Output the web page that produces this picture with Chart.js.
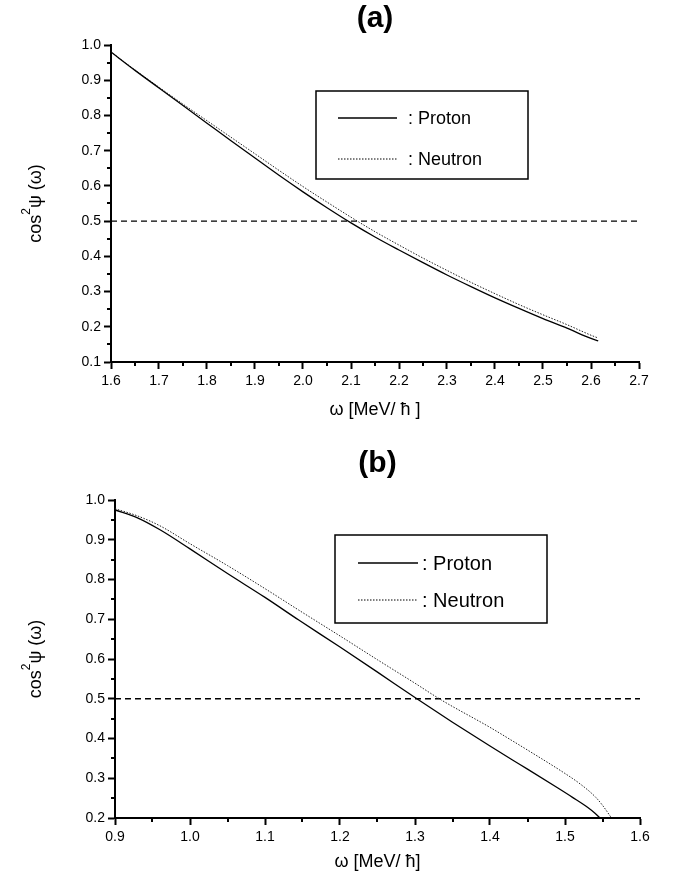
<!DOCTYPE html>
<html>
<head>
<meta charset="utf-8">
<script src="https://cdn.jsdelivr.net/npm/chart.js@4.4.1/dist/chart.umd.min.js"></script>
<style>
  html, body { margin: 0; padding: 0; background: #fff; }
  .panel { position: absolute; left: 0; width: 676px; }
  #wrapA { top: 0; height: 440px; }
  #wrapB { top: 440px; height: 441px; }
</style>
</head>
<body>
<div class="panel" id="wrapA"><canvas id="chartA"></canvas></div>
<div class="panel" id="wrapB"><canvas id="chartB"></canvas></div>
<script>
// ---- panel (a) data ----
const omegaA = [1.60, 1.65, 1.70, 1.75, 1.80, 1.85, 1.90, 1.95, 2.00, 2.05, 2.10, 2.15, 2.20, 2.25, 2.30, 2.35, 2.40, 2.45, 2.50, 2.55, 2.60, 2.615];
const protonA = [0.980, 0.928, 0.878, 0.828, 0.778, 0.728, 0.679, 0.630, 0.583, 0.538, 0.495, 0.455, 0.418, 0.382, 0.347, 0.314, 0.282, 0.252, 0.223, 0.196, 0.167, 0.160];
const neutronA = [0.980, 0.929, 0.880, 0.832, 0.785, 0.738, 0.691, 0.644, 0.598, 0.554, 0.511, 0.470, 0.432, 0.395, 0.360, 0.326, 0.294, 0.263, 0.234, 0.206, 0.176, 0.168];
const xTicksA = [1.6, 1.7, 1.8, 1.9, 2.0, 2.1, 2.2, 2.3, 2.4, 2.5, 2.6, 2.7];
const yTicksA = [0.1, 0.2, 0.3, 0.4, 0.5, 0.6, 0.7, 0.8, 0.9, 1.0];

// ---- panel (b) data ----
const omegaBp = [0.90, 0.93, 0.96, 1.00, 1.05, 1.10, 1.145, 1.20, 1.25, 1.30, 1.35, 1.40, 1.43, 1.45, 1.49, 1.51, 1.53, 1.54, 1.549];
const protonB = [0.975, 0.955, 0.925, 0.877, 0.815, 0.755, 0.698, 0.630, 0.567, 0.503, 0.441, 0.381, 0.346, 0.323, 0.276, 0.252, 0.227, 0.212, 0.196];
const omegaBn = [0.90, 0.93, 0.96, 1.00, 1.05, 1.10, 1.145, 1.20, 1.25, 1.30, 1.335, 1.40, 1.43, 1.45, 1.50, 1.52, 1.54, 1.55, 1.562];
const neutronB = [0.978, 0.960, 0.935, 0.890, 0.835, 0.777, 0.723, 0.658, 0.598, 0.539, 0.497, 0.428, 0.394, 0.371, 0.312, 0.286, 0.254, 0.232, 0.200];
const xTicksB = [0.9, 1.0, 1.1, 1.2, 1.3, 1.4, 1.5, 1.6];
const yTicksB = [0.2, 0.3, 0.4, 0.5, 0.6, 0.7, 0.8, 0.9, 1.0];

const halfLine = 0.5;
const labels = ['Proton', 'Neutron'];

const FONT = '"Liberation Sans", Arial, Helvetica, sans-serif';

function pts(xs, ys) {
    return xs.map((x, i) => ({ x: x, y: ys[i] }));
}

// draws minor ticks, titles, axis titles and the legend box
const decorPlugin = {
    id: 'decor',
    afterDraw(chart, args, opts) {
        const ctx = chart.ctx;
        const xs = chart.scales.x, ys = chart.scales.y;
        const area = chart.chartArea;
        ctx.save();
        ctx.strokeStyle = '#000';
        ctx.lineWidth = 2;
        // minor ticks halfway between the majors
        for (let i = 0; i < opts.xTicks.length - 1; i++) {
            const px = Math.round(xs.getPixelForValue((opts.xTicks[i] + opts.xTicks[i + 1]) / 2));
            ctx.beginPath();
            ctx.moveTo(px, area.bottom);
            ctx.lineTo(px, area.bottom + 4);
            ctx.stroke();
        }
        for (let i = 0; i < opts.yTicks.length - 1; i++) {
            const py = Math.round(ys.getPixelForValue((opts.yTicks[i] + opts.yTicks[i + 1]) / 2));
            ctx.beginPath();
            ctx.moveTo(area.left, py);
            ctx.lineTo(area.left - 4, py);
            ctx.stroke();
        }

        ctx.fillStyle = '#000';
        // panel title
        ctx.font = 'bold 30px ' + FONT;
        ctx.textAlign = 'center';
        ctx.textBaseline = 'middle';
        ctx.fillText(opts.title, (area.left + area.right) / 2, opts.titleY);

        // x axis title
        ctx.font = '18px ' + FONT;
        ctx.fillText(opts.xTitle, (area.left + area.right) / 2, opts.xTitleY);

        // y axis title, rotated
        ctx.save();
        ctx.translate(opts.yTitleX, (area.top + area.bottom) / 2);
        ctx.rotate(-Math.PI / 2);
        ctx.font = '18px ' + FONT;
        ctx.textAlign = 'left';
        const w1 = ctx.measureText('cos').width;
        ctx.font = '12px ' + FONT;
        const w2 = ctx.measureText('2').width;
        ctx.font = '18px ' + FONT;
        const w3 = ctx.measureText('\u03C8 (\u03C9)').width;
        let x0 = -(w1 + w2 + w3) / 2;
        ctx.fillText('cos', x0, 0);
        ctx.font = '12px ' + FONT;
        ctx.fillText('2', x0 + w1, -9);
        ctx.font = '18px ' + FONT;
        ctx.fillText('\u03C8 (\u03C9)', x0 + w1 + w2, 0);
        ctx.restore();

        // legend box
        const lg = opts.legend;
        ctx.lineWidth = 1.5;
        ctx.setLineDash([]);
        ctx.strokeRect(lg.left, lg.top, lg.width, lg.height);
        ctx.font = lg.fontSize + 'px ' + FONT;
        ctx.textAlign = 'left';
        ctx.textBaseline = 'middle';
        for (let i = 0; i < 2; i++) {
            const ds = chart.data.datasets[i];
            const y = lg.rowY[i];
            ctx.beginPath();
            ctx.lineWidth = ds.borderWidth;
            ctx.setLineDash(ds.borderDash || []);
            ctx.moveTo(lg.lineX0, y);
            ctx.lineTo(lg.lineX1, y);
            ctx.stroke();
            ctx.setLineDash([]);
            ctx.fillText(': ' + ds.label, lg.textX, y + 1);
        }
        ctx.restore();
    }
};

function makeChart(id, cfg) {
    const ctx = document.getElementById(id).getContext('2d');
    const axisBase = {
        type: 'linear',
        border: { display: true, color: '#000', width: 2 },
        grid: {
            display: true,
            drawOnChartArea: false,
            drawTicks: true,
            tickLength: 7,
            tickColor: '#000',
            tickWidth: 2
        }
    };
    return new Chart(ctx, {
        type: 'line',
        data: {
            datasets: [
                {
                    label: labels[0],
                    data: cfg.proton,
                    borderColor: '#000',
                    borderWidth: 1.3,
                    pointRadius: 0,
                    cubicInterpolationMode: 'monotone',
                    fill: false
                },
                {
                    label: labels[1],
                    data: cfg.neutron,
                    borderColor: '#222',
                    borderWidth: 1,
                    borderDash: [1.5, 1.5],
                    pointRadius: 0,
                    cubicInterpolationMode: 'monotone',
                    fill: false
                },
                {
                    label: 'half',
                    data: [{ x: cfg.xTicks[0], y: halfLine }, { x: cfg.xTicks[cfg.xTicks.length - 1], y: halfLine }],
                    borderColor: '#000',
                    borderWidth: 1.3,
                    borderDash: [6, 4],
                    pointRadius: 0,
                    fill: false
                }
            ]
        },
        options: {
            responsive: true,
            maintainAspectRatio: false,
            animation: false,
            layout: {
                autoPadding: false,
                padding: { left: 0, top: cfg.top, right: cfg.right, bottom: 0 }
            },
            plugins: {
                legend: { display: false },
                tooltip: { enabled: false },
                decor: cfg.decor
            },
            scales: {
                x: Object.assign({}, axisBase, {
                    min: cfg.xTicks[0],
                    max: cfg.xTicks[cfg.xTicks.length - 1],
                    afterBuildTicks: s => { s.ticks = cfg.xTicks.map(v => ({ value: v })); },
                    afterFit: s => { s.height = cfg.xHeight; },
                    ticks: {
                        color: '#000',
                        padding: 4,
                        maxRotation: 0,
                        autoSkip: false,
                        font: { family: FONT, size: 14 },
                        callback: v => Number(v).toFixed(1)
                    }
                }),
                y: Object.assign({}, axisBase, {
                    min: cfg.yTicks[0],
                    max: cfg.yTicks[cfg.yTicks.length - 1],
                    afterBuildTicks: s => { s.ticks = cfg.yTicks.map(v => ({ value: v })); },
                    afterFit: s => { s.width = cfg.yWidth; },
                    ticks: {
                        color: '#000',
                        padding: 3,
                        autoSkip: false,
                        font: { family: FONT, size: 14 },
                        callback: v => Number(v).toFixed(1)
                    }
                })
            }
        },
        plugins: [decorPlugin]
    });
}

makeChart('chartA', {
    proton: pts(omegaA, protonA),
    neutron: pts(omegaA, neutronA),
    xTicks: xTicksA,
    yTicks: yTicksA,
    top: 45, right: 37, xHeight: 78, yWidth: 111,
    decor: {
        xTicks: xTicksA, yTicks: yTicksA,
        title: '(a)', titleY: 19,
        xTitle: '\u03C9 [MeV/ \u0127 ]', xTitleY: 410,
        yTitleX: 36,
        legend: { left: 316, top: 91, width: 212, height: 88, fontSize: 18,
                  rowY: [118, 159], lineX0: 338, lineX1: 397, textX: 408 }
    }
});

makeChart('chartB', {
    proton: pts(omegaBp, protonB),
    neutron: pts(omegaBn, neutronB),
    xTicks: xTicksB,
    yTicks: yTicksB,
    top: 60, right: 36, xHeight: 63, yWidth: 115,
    decor: {
        xTicks: xTicksB, yTicks: yTicksB,
        title: '(b)', titleY: 24,
        xTitle: '\u03C9 [MeV/ \u0127]', xTitleY: 422,
        yTitleX: 36,
        legend: { left: 335, top: 95, width: 212, height: 88, fontSize: 20,
                  rowY: [123, 160], lineX0: 358, lineX1: 418, textX: 422 }
    }
});
</script>
</body>
</html>
